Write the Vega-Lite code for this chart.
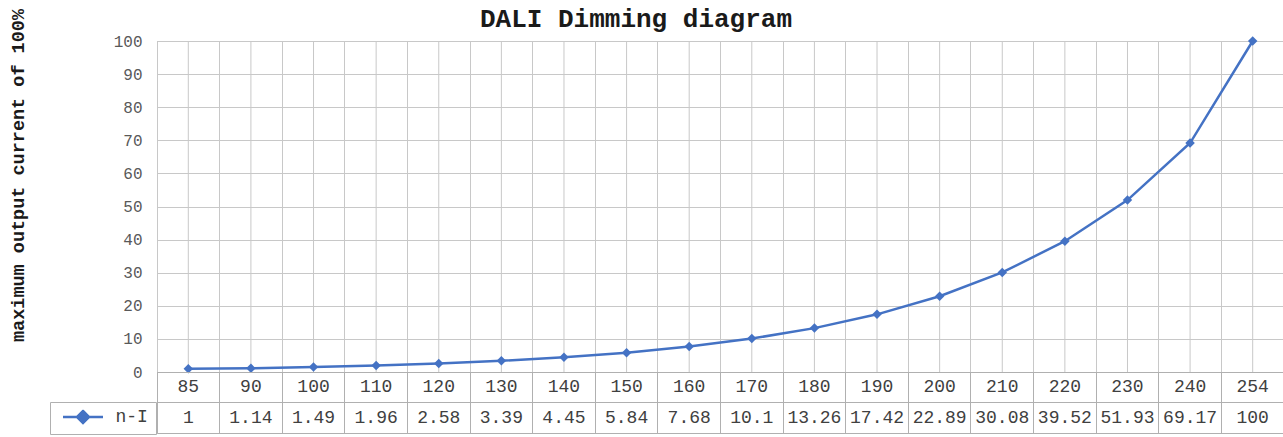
{
  "$schema": "https://vega.github.io/schema/vega-lite/v6.json",
  "padding": {"left": 7, "top": 6, "right": 0, "bottom": 0},
  "background": "white",
  "title": {
    "text": "DALI Dimming diagram",
    "font": "Liberation Mono",
    "fontSize": 26,
    "fontWeight": "bold",
    "color": "#1a1a1a",
    "anchor": "middle",
    "frame": "bounds",
    "baseline": "bottom",
    "offset": -50.5,
    "dx": -10
  },
  "data": {
    "values": [
      {"level": 85, "current": 1},
      {"level": 90, "current": 1.14},
      {"level": 100, "current": 1.49},
      {"level": 110, "current": 1.96},
      {"level": 120, "current": 2.58},
      {"level": 130, "current": 3.39},
      {"level": 140, "current": 4.45},
      {"level": 150, "current": 5.84},
      {"level": 160, "current": 7.68},
      {"level": 170, "current": 10.1},
      {"level": 180, "current": 13.26},
      {"level": 190, "current": 17.42},
      {"level": 200, "current": 22.89},
      {"level": 210, "current": 30.08},
      {"level": 220, "current": 39.52},
      {"level": 230, "current": 51.93},
      {"level": 240, "current": 69.17},
      {"level": 254, "current": 100}
    ]
  },
  "spacing": 0,
  "bounds": "flush",
  "config": {
    "view": {"stroke": "#b0b0b0"},
    "font": "Liberation Mono"
  },
  "vconcat": [
    {
      "width": 1127,
      "height": 331,
      "encoding": {
        "x": {
          "field": "level",
          "type": "ordinal",
          "scale": {"type": "band", "paddingInner": 0, "paddingOuter": 0},
          "axis": {"labels": false, "ticks": false, "domain": false, "grid": true, "bandPosition": 0, "gridColor": "#c8c8c8", "title": null}
        }
      },
      "layer": [
        {
          "mark": {"type": "rule", "color": "#c8c8c8", "strokeWidth": 1},
          "encoding": {}
        },
        {
          "encoding": {
            "y": {
              "field": "current",
              "type": "quantitative",
              "scale": {"domain": [0, 100]},
              "axis": {
                "values": [0, 10, 20, 30, 40, 50, 60, 70, 80, 90, 100],
                "labelOverlap": false,
                "title": "maximum output current of 100%",
                "titleFont": "Liberation Mono",
                "titleFontSize": 18.5,
                "titleFontWeight": "bold",
                "titleColor": "#1a1a1a",
                "titleX": -130,
                "titleY": 134,
                "titleAngle": 270,
                "titleBaseline": "bottom",
                "titleAlign": "center",
                "labelFont": "Liberation Mono",
                "labelFontSize": 16,
                "labelColor": "#595959",
                "labelPadding": 15,
                "ticks": false,
                "domain": false,
                "gridColor": "#c8c8c8"
              }
            },
            "color": {
              "datum": "n-I",
              "type": "nominal",
              "scale": {"range": ["#4472c4"]},
              "legend": {
                "orient": "none",
                "legendX": -107,
                "legendY": 361,
                "title": null,
                "padding": 7.5,
                "strokeColor": "#b0b0b0",
                "fillColor": "white",
                "clipHeight": 15,
                "labelOffset": 11,
                "symbolOffset": 4,
                "labelFont": "Liberation Mono",
                "labelFontSize": 18,
                "labelColor": "#404040",
                "symbolType": "M-1,0L1,0M0,-0.3L0.3,0L0,0.3L-0.3,0Z",
                "symbolSize": 1600,
                "symbolStrokeWidth": 2.5,
                "encode": {
                  "symbols": {
                    "update": {
                      "shape": {"value": "M-1,0L1,0M0,-0.3L0.3,0L0,0.3L-0.3,0Z"},
                      "fill": {"value": "#4472c4"},
                      "stroke": {"value": "#4472c4"},
                      "strokeWidth": {"value": 2.5},
                      "size": {"value": 1600}
                    }
                  }
                }
              }
            }
          },
          "layer": [
            {"mark": {"type": "line", "strokeWidth": 2.5}},
            {"mark": {"type": "point", "shape": "diamond", "filled": true, "size": 90, "opacity": 1}}
          ]
        }
      ]
    },
    {
      "width": 1127,
      "height": 61,
      "encoding": {
        "x": {
          "field": "level",
          "type": "ordinal",
          "scale": {"type": "band", "paddingInner": 0, "paddingOuter": 0},
          "axis": {"labels": false, "ticks": false, "domain": false, "grid": true, "bandPosition": 0, "gridColor": "#b0b0b0", "title": null}
        }
      },
      "layer": [
        {
          "mark": {"type": "text", "font": "Liberation Mono", "fontSize": 18, "color": "#404040"},
          "encoding": {
            "y": {
              "datum": "level",
              "type": "ordinal",
              "scale": {"type": "band", "domain": ["level", "value"], "paddingInner": 0, "paddingOuter": 0},
              "axis": {"labels": false, "ticks": false, "domain": false, "grid": true, "bandPosition": 0, "gridColor": "#b0b0b0", "title": null}
            },
            "text": {"field": "level", "type": "ordinal"}
          }
        },
        {
          "mark": {"type": "text", "font": "Liberation Mono", "fontSize": 18, "color": "#404040"},
          "encoding": {
            "y": {"datum": "value", "type": "ordinal"},
            "text": {"field": "current", "type": "quantitative"}
          }
        }
      ]
    }
  ]
}
